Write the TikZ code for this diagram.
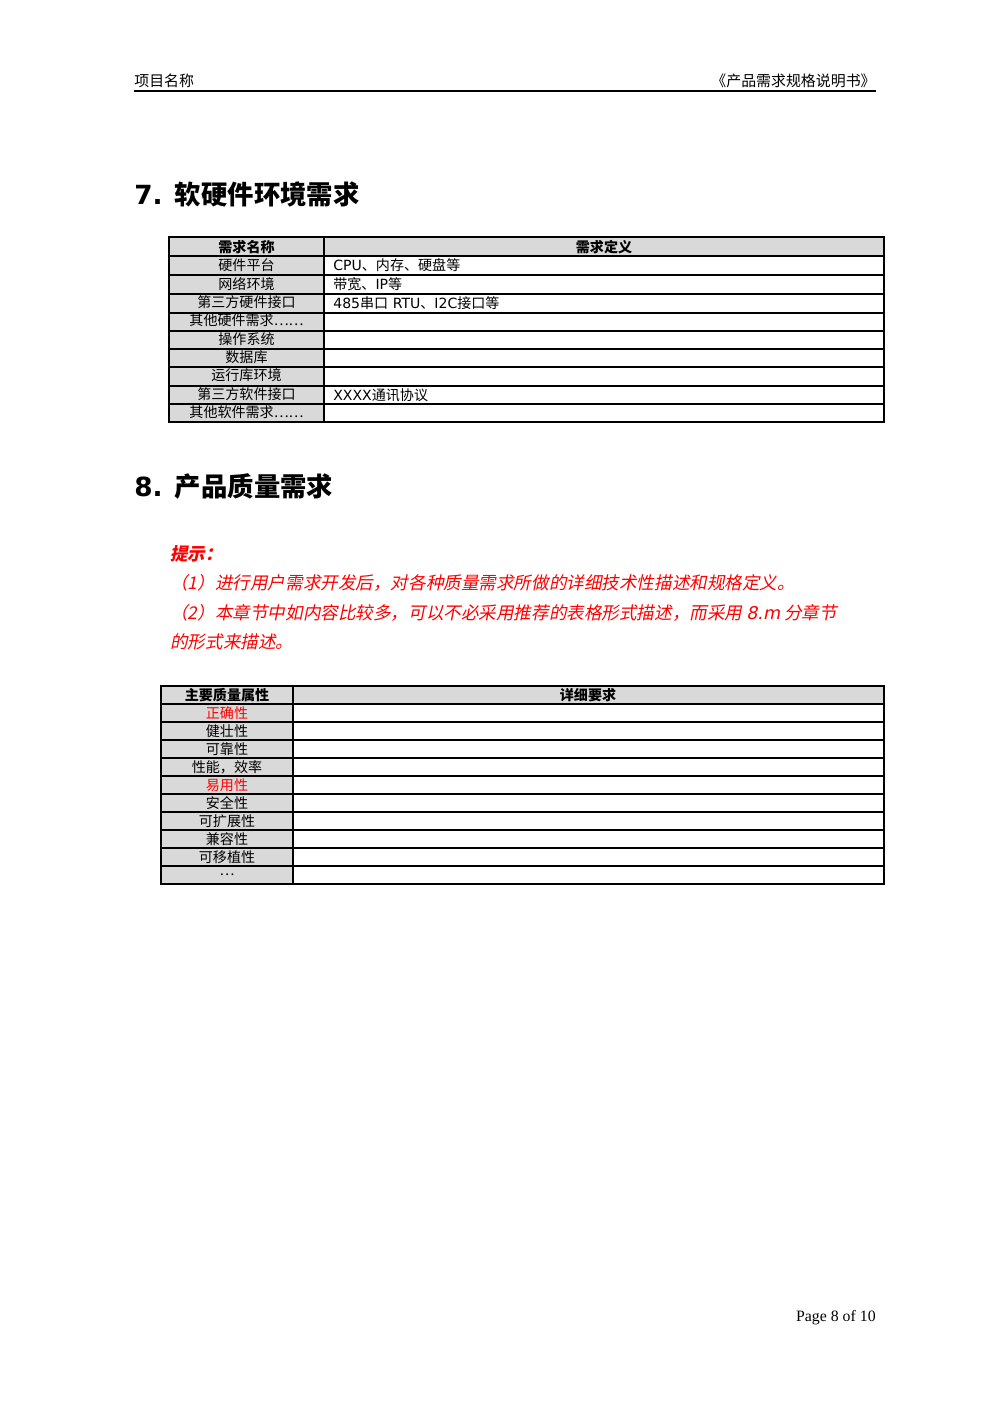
\documentclass[tikz,border=0pt]{standalone}
\usepackage{fontspec}
\setmainfont{DejaVu Sans}
\newfontfamily\cjk{Noto Sans CJK SC}
\newfontfamily\cjkit[FakeSlant=0.2]{Noto Sans CJK SC}
\newfontfamily\serifen{Liberation Serif}
\definecolor{hdrgray}{HTML}{D9D9D9}
\definecolor{hintred}{HTML}{FF0000}
\begin{document}
\begin{tikzpicture}[x=0.02cm,y=-0.02cm,
  txt/.style={inner sep=0pt,font=\fontsize{8}{9}\selectfont},
  cell/.style={txt,anchor=center},
  lcell/.style={txt,anchor=west},
  head/.style={inner sep=0pt,anchor=west,font=\fontsize{15}{17}\selectfont\bfseries},
  hint/.style={inner sep=0pt,anchor=west,text=hintred,font=\fontsize{10}{12}\selectfont\cjkit},
  grid/.style={draw=black,line width=0.6pt}]
\useasboundingbox (0,0) rectangle (1000,1415);
% header
\node[txt,anchor=west,font=\fontsize{8.5}{10}\selectfont\cjk] (hl) at (134,81) {项目名称};
\node[txt,anchor=east,font=\fontsize{8.5}{10}\selectfont\cjk] (hr) at (876,81) {《产品需求规格说明书》};
\draw[line width=0.9pt] (134,91) -- (876,91);
% section 7
\node[head] (h7) at (134,194) {7. {\cjk\bfseries 软硬件环境需求}};
\fill[hdrgray] (169,237) rectangle (884,256);
\fill[hdrgray] (169,256) rectangle (324,422);
\foreach \y in {256,275,294,313,331,349,367,386,404} \draw[grid] (169,\y) -- (884,\y);
\draw[grid] (169,237) rectangle (884,422);
\draw[grid] (324,237) -- (324,422);
\node[cell,font=\fontsize{8}{9}\selectfont\cjk\bfseries] (t1a) at (246.5,247) {需求名称};
\node[cell,font=\fontsize{8}{9}\selectfont\cjk\bfseries] (t1b) at (604,247) {需求定义};
\foreach \t [count=\i] in {硬件平台,网络环境,第三方硬件接口,其他硬件需求……,操作系统,数据库,运行库环境,第三方软件接口,其他软件需求……}{
  \pgfmathsetmacro\yy{256+18.4*(\i-1)+9.2}
  \node[cell,font=\fontsize{8}{9}\selectfont\cjk] (r1c\i) at (246.5,\yy) {\t};
}
\node[lcell] (d1) at (333,265.5) {CPU{\cjk 、内存、硬盘等}};
\node[lcell] (d2) at (333,284.5) {{\cjk 带宽、}IP{\cjk 等}};
\node[lcell] (d3) at (333,303.5) {485{\cjk 串口} RTU{\cjk 、}I2C{\cjk 接口等}};
\node[lcell] (d8) at (333,395) {XXXX{\cjk 通讯协议}};
% section 8
\node[head] (h8) at (134,487) {8. {\cjk\bfseries 产品质量需求}};
\node[hint,font=\fontsize{10}{12}\selectfont\cjkit\bfseries] (p0) at (170,554) {提示：};
\node[hint] (p1) at (170,583) {（1）进行用户需求开发后，对各种质量需求所做的详细技术性描述和规格定义。};
\node[hint] (p2) at (170,613) {（2）本章节中如内容比较多，可以不必采用推荐的表格形式描述，而采用 {\fontspec{DejaVu Sans}[FakeSlant=0.2]8.m} 分章节};
\node[hint] (p3) at (170,642) {的形式来描述。};
\fill[hdrgray] (161,686) rectangle (884,704);
\fill[hdrgray] (161,704) rectangle (293,884);
\foreach \y in {704,722,740,758,776,794,812,830,848,866} \draw[grid] (161,\y) -- (884,\y);
\draw[grid] (161,686) rectangle (884,884);
\draw[grid] (293,686) -- (293,884);
\node[cell,font=\fontsize{8}{9}\selectfont\cjk\bfseries] (t2a) at (227,695) {主要质量属性};
\node[cell,font=\fontsize{8}{9}\selectfont\cjk\bfseries] (t2b) at (588,695) {详细要求};
\foreach \t/\c [count=\i] in {正确性/hintred,健壮性/black,可靠性/black,性能，效率/black,易用性/hintred,安全性/black,可扩展性/black,兼容性/black,可移植性/black,…/black}{
  \pgfmathsetmacro\yy{704+18*(\i-1)+9}
  \node[cell,text=\c,font=\fontsize{8}{9}\selectfont\cjk] (r2c\i) at (227,\yy) {\t};
}
% footer
\node[txt,anchor=east,font=\fontsize{9}{10}\selectfont\serifen] (ft) at (876,1318) {Page 8 of 10};
\end{tikzpicture}
\end{document}
